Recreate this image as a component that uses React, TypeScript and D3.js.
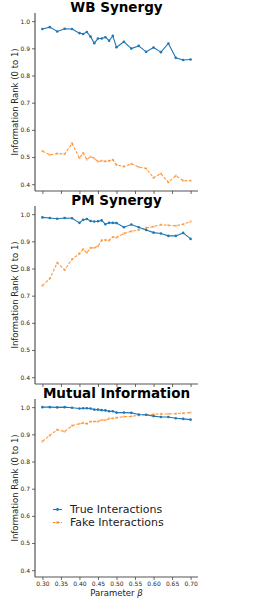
import { useEffect, useRef } from 'react'
import * as d3 from 'd3'

const betas = [
  0.30, 0.32, 0.34, 0.36, 0.38, 0.40, 0.41, 0.42, 0.43, 0.44, 0.45, 0.46, 0.47,
  0.48, 0.49, 0.50, 0.52, 0.54, 0.56, 0.58, 0.60, 0.62, 0.64, 0.66, 0.68, 0.70,
]

const wbTrue = [
  0.971, 0.978, 0.962, 0.972, 0.971, 0.956, 0.953, 0.960, 0.943, 0.919, 0.936, 0.936, 0.941,
  0.928, 0.946, 0.904, 0.924, 0.899, 0.909, 0.887, 0.903, 0.886, 0.918, 0.865, 0.857, 0.859,
]
const wbFake = [
  0.522, 0.508, 0.513, 0.511, 0.550, 0.496, 0.515, 0.491, 0.501, 0.495, 0.483, 0.486, 0.484,
  0.486, 0.490, 0.471, 0.465, 0.475, 0.463, 0.458, 0.424, 0.439, 0.407, 0.431, 0.413, 0.413,
]
const pmTrue = [
  0.988, 0.986, 0.983, 0.986, 0.985, 0.968, 0.979, 0.982, 0.975, 0.973, 0.974, 0.977, 0.963,
  0.968, 0.968, 0.967, 0.952, 0.962, 0.952, 0.942, 0.932, 0.929, 0.920, 0.920, 0.931, 0.909,
]
const pmFake = [
  0.737, 0.763, 0.821, 0.795, 0.834, 0.855, 0.871, 0.858, 0.876, 0.876, 0.882, 0.904, 0.905,
  0.903, 0.916, 0.914, 0.929, 0.937, 0.942, 0.950, 0.954, 0.961, 0.959, 0.957, 0.963, 0.973,
]
const miTrue = [
  1.000, 1.000, 0.999, 1.000, 0.998, 0.995, 0.996, 0.996, 0.995, 0.991, 0.991, 0.989, 0.988,
  0.985, 0.985, 0.980, 0.980, 0.979, 0.973, 0.972, 0.967, 0.964, 0.964, 0.959, 0.957, 0.954,
]
const miFake = [
  0.874, 0.896, 0.917, 0.910, 0.932, 0.939, 0.942, 0.939, 0.947, 0.947, 0.947, 0.953, 0.952,
  0.958, 0.959, 0.961, 0.965, 0.966, 0.970, 0.971, 0.974, 0.975, 0.975, 0.976, 0.978, 0.980,
]

const titles = ["WB Synergy", "PM Synergy", "Mutual Information"]
const trueSeries = [wbTrue, pmTrue, miTrue]
const fakeSeries = [wbFake, pmFake, miFake]
const legendLabels = ["True Interactions", "Fake Interactions"]
const yTicks = [0.4, 0.5, 0.6, 0.7, 0.8, 0.9, 1.0]
const xTicks = [0.30, 0.35, 0.40, 0.45, 0.50, 0.55, 0.60, 0.65, 0.70]

export default function App() {
  const svgRef = useRef<SVGSVGElement>(null)

  useEffect(() => {
    if (!svgRef.current) return
    const root = d3.select(svgRef.current)
    root.selectAll("*").remove()

    const font = "'DejaVu Sans', sans-serif"
    const blue = "#1f77b4"
    const orange = "#ff7f0e"
    const panelStep = 193
    const top = 13
    const bottom = 191

    const x = d3.scaleLinear().domain([0.28, 0.72]).range([35, 198])

    titles.forEach((title, p) => {
      const g = root.append("g").attr("transform", `translate(0,${p * panelStep})`)
      const y = d3.scaleLinear().domain([0.375, 1.03]).range([bottom, top])

      // title
      g.append("text")
        .attr("x", (x.range()[0] + x.range()[1]) / 2)
        .attr("y", 11.5)
        .attr("text-anchor", "middle")
        .attr("font-family", font)
        .attr("font-weight", "bold")
        .attr("font-size", 13.5)
        .text(title)

      // axes
      const yAxis = g.append("g")
        .attr("transform", `translate(${x.range()[0]},0)`)
        .call(d3.axisLeft(y).tickValues(yTicks).tickFormat(d3.format(".1f")).tickSize(3).tickPadding(2))
      const xAxis = g.append("g")
        .attr("transform", `translate(0,${bottom})`)
        .call(d3.axisBottom(x).tickValues(xTicks).tickFormat(p === 2 ? d3.format(".2f") : () => "").tickSize(3).tickPadding(2))

      for (const ax of [yAxis, xAxis]) {
        ax.select(".domain").attr("stroke", "#555").attr("stroke-width", 1.2)
          .attr("d", ax === yAxis ? `M0,${top}V${bottom}` : `M${x.range()[0]},0H${x.range()[1]}`)
        ax.selectAll(".tick line").attr("stroke", "#444").attr("stroke-width", 0.8)
        ax.selectAll(".tick text").attr("font-family", font).attr("font-size", 6).attr("fill", "#262626")
      }

      // y label
      g.append("text")
        .attr("transform", `translate(15,${(top + bottom) / 2}) rotate(-90)`)
        .attr("text-anchor", "middle")
        .attr("dominant-baseline", "middle")
        .attr("font-family", font)
        .attr("font-size", 8.5)
        .attr("fill", "#222")
        .text("Information Rank (0 to 1)")

      const line = d3.line<number>()
        .x((_, i) => x(betas[i]))
        .y(d => y(d))

      // fake interactions (dashed, squares)
      g.append("path")
        .datum(fakeSeries[p])
        .attr("fill", "none")
        .attr("stroke", orange)
        .attr("stroke-opacity", 0.8)
        .attr("stroke-width", 1.1)
        .attr("stroke-dasharray", "3,1.5")
        .attr("d", line)
      g.selectAll("rect.fake")
        .data(fakeSeries[p])
        .join("rect")
        .attr("class", "fake")
        .attr("x", (_, i) => x(betas[i]) - 1.1)
        .attr("y", d => y(d) - 1.1)
        .attr("width", 2.2)
        .attr("height", 2.2)
        .attr("fill", orange)
        .attr("fill-opacity", 0.45)

      // true interactions (solid, dots)
      g.append("path")
        .datum(trueSeries[p])
        .attr("fill", "none")
        .attr("stroke", blue)
        .attr("stroke-width", 1.1)
        .attr("d", line)
      g.selectAll("circle.true")
        .data(trueSeries[p])
        .join("circle")
        .attr("class", "true")
        .attr("cx", (_, i) => x(betas[i]))
        .attr("cy", d => y(d))
        .attr("r", 1.3)
        .attr("fill", blue)

      if (p === 2) {
        g.append("text")
          .attr("x", (x.range()[0] + x.range()[1]) / 2)
          .attr("y", bottom + 19)
          .attr("text-anchor", "middle")
          .attr("font-family", font)
          .attr("font-size", 8.5)
          .attr("fill", "#222")
          .text("Parameter ")
          .append("tspan")
          .attr("font-style", "italic")
          .text("β")

        // legend
        const legend = g.append("g").attr("transform", "translate(53,123.5)")
        legendLabels.forEach((label, k) => {
          const row = legend.append("g").attr("transform", `translate(0,${k * 13})`)
          const color = k === 0 ? blue : orange
          row.append("line")
            .attr("x1", 0).attr("x2", 9).attr("y1", 0).attr("y2", 0)
            .attr("stroke", color)
            .attr("stroke-width", 1.1)
            .attr("stroke-dasharray", k === 0 ? null : "2.5,1.5")
          if (k === 0) {
            row.append("circle").attr("cx", 4.5).attr("cy", 0).attr("r", 1.4).attr("fill", color)
          } else {
            row.append("rect").attr("x", 3.3).attr("y", -1.2).attr("width", 2.4).attr("height", 2.4)
              .attr("fill", color).attr("fill-opacity", 0.7)
          }
          row.append("text")
            .attr("x", 17)
            .attr("y", 0)
            .attr("dominant-baseline", "central")
            .attr("font-family", font)
            .attr("font-size", 11)
            .attr("fill", "#222")
            .text(label)
        })
      }
    })
  }, [])

  return (
    <div style={{ position: "absolute", left: 0, top: 0 }}>
      <svg ref={svgRef} width={262} height={600} style={{ display: "block" }} />
    </div>
  )
}
